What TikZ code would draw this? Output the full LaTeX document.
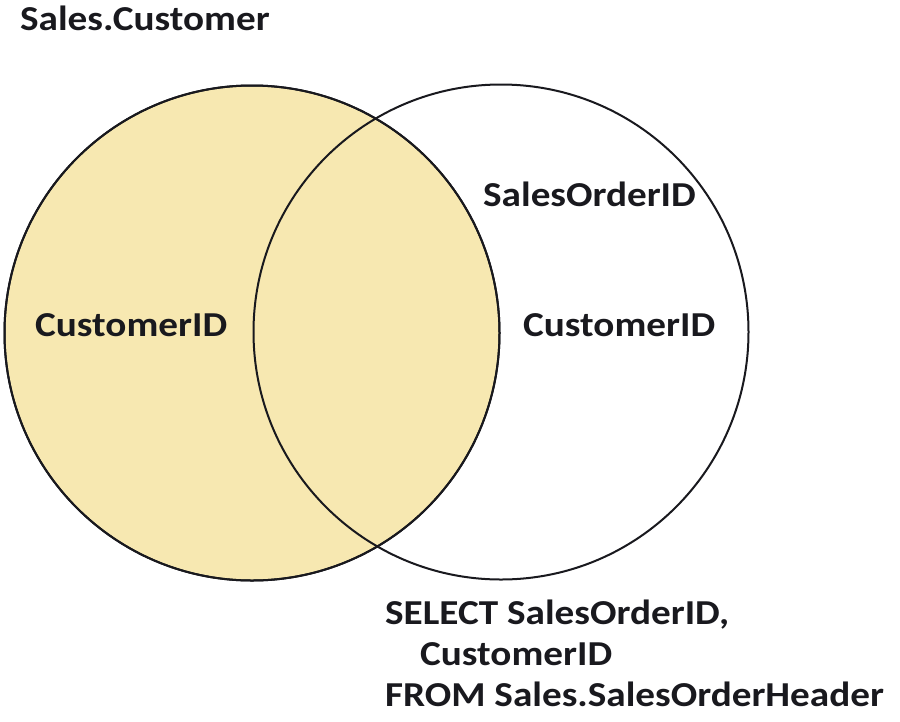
\documentclass[tikz,border=0pt]{standalone}
\usepackage{fontspec}
\setmainfont{Carlito}
\newfontfamily\lblfont[FakeStretch=1.12]{Carlito}
\definecolor{venn}{RGB}{247,232,177}
\definecolor{ink}{RGB}{25,25,30}
\begin{document}
\begin{tikzpicture}[x=1pt,y=-1pt,
  setcircle/.style={circle, draw=ink, line width=2pt, minimum size=495pt, inner sep=0pt},
  lbl/.style={font=\lblfont\fontsize{35}{42}\selectfont\bfseries, text=ink, inner sep=0pt}]
\useasboundingbox (0,0) rectangle (900,721);
\node[setcircle, fill=venn] (A) at (252,333) {};
\node[setcircle] (B) at (501,332) {};
\node[setcircle, fill=none] (A2) at (252,333) {};
\node[lbl, anchor=base west] (ta) at (20,30) {Sales.Customer};
\node[lbl, anchor=base west] (ca) at (35,336) {CustomerID};
\node[lbl, anchor=base west] (sb) at (483,206) {SalesOrderID};
\node[lbl, anchor=base west] (cb) at (523,336) {CustomerID};
\node[lbl, anchor=base west] (q1) at (385,624) {SELECT SalesOrderID,};
\node[lbl, anchor=base west] (q2) at (420,665) {CustomerID};
\node[lbl, anchor=base west] (q3) at (385,706) {FROM Sales.SalesOrderHeader};
\end{tikzpicture}
\end{document}
